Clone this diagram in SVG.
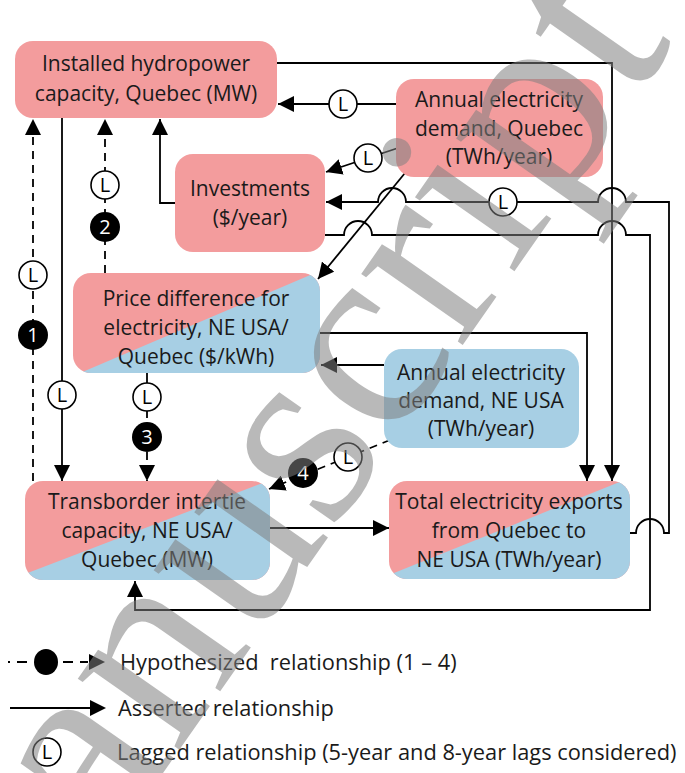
<svg xmlns="http://www.w3.org/2000/svg" width="685" height="773" viewBox="0 0 685 773">
<style>
.t{font-family:"Open Sans","Liberation Sans",sans-serif;font-size:21px;fill:#1a1a1a;text-anchor:middle}
.lg{font-family:"Open Sans","Liberation Sans",sans-serif;font-size:21.8px;fill:#1a1a1a}
.red{fill:#f39c9d}
.blue{fill:#a7cfe4}
.c{fill:none;stroke:#000;stroke-width:1.8}
.d{fill:none;stroke:#000;stroke-width:1.8;stroke-dasharray:8 6}
.lc{fill:#fff;stroke:#000;stroke-width:1.6}
.lt{font-family:"Open Sans","Liberation Sans",sans-serif;font-size:20px;fill:#000;text-anchor:middle}
.bc{fill:#000}
.bt{font-family:"Open Sans","Liberation Sans",sans-serif;font-size:20px;fill:#fff;text-anchor:middle}
.wm{font-family:"Liberation Serif",serif;font-size:270px;fill:#808080;fill-opacity:0.55}
</style>
<defs>
<marker id="ah" markerUnits="userSpaceOnUse" markerWidth="16" markerHeight="16" refX="16" refY="8" orient="auto">
<path d="M0,0 L16,8 L0,16 z" fill="#000"/>
</marker>
<clipPath id="cpPrice"><rect x="73" y="273" width="247" height="100" rx="18"/></clipPath>
<clipPath id="cpTrans"><rect x="25" y="481" width="245" height="99" rx="18"/></clipPath>
<clipPath id="cpExp"><rect x="389" y="481" width="241" height="98" rx="18"/></clipPath>
</defs>

<g id="connectors">
<path class="c" d="M277,63 H612 V481" marker-end="url(#ah)"/>
<path class="c" d="M396,104 H278" marker-end="url(#ah)"/>
<path class="c" d="M398,148 L326,172" marker-end="url(#ah)"/>
<path class="c" d="M405,173 L318,279" marker-end="url(#ah)"/>
<path class="c" d="M630,533 H636 A14,14 0 0 1 664,533 H669 V202 H626 A14,14 0 0 0 598,202 H406 A14,14 0 0 0 378,202 H326" marker-end="url(#ah)"/>
<path class="c" d="M325,235 H344 A14,14 0 0 1 372,235 H598 A14,14 0 0 1 626,235 H650 V610 H135 V581" marker-end="url(#ah)"/>
<path class="c" d="M320,333 H587 V481" marker-end="url(#ah)"/>
<path class="c" d="M384,365 H321" marker-end="url(#ah)"/>
<path class="d" d="M390,440 L269,489" marker-end="url(#ah)"/>
<path class="c" d="M270,528 H389" marker-end="url(#ah)"/>
<path class="c" d="M62,118 V481" marker-end="url(#ah)"/>
<path class="d" d="M33,481 V119" marker-end="url(#ah)"/>
<path class="d" d="M105,273 V119" marker-end="url(#ah)"/>
<path class="c" d="M175,203 H160 V119" marker-end="url(#ah)"/>
<path class="c" d="M147,373 V384"/>
<path class="d" d="M147,410 V481" marker-end="url(#ah)"/>
<g id="lags">
<circle class="lc" cx="343" cy="104" r="14"/><text class="lt" x="343" y="111">L</text>
<circle class="lc" cx="368" cy="158" r="14"/><text class="lt" x="368" y="165">L</text>
<circle class="lc" cx="503" cy="202" r="14"/><text class="lt" x="503" y="209">L</text>
<circle class="lc" cx="348" cy="457" r="14"/><text class="lt" x="348" y="464">L</text>
<circle class="lc" cx="62" cy="395" r="14"/><text class="lt" x="62" y="402">L</text>
<circle class="lc" cx="33" cy="275" r="14"/><text class="lt" x="33" y="282">L</text>
<circle class="lc" cx="105" cy="185" r="14"/><text class="lt" x="105" y="192">L</text>
<circle class="lc" cx="147" cy="397" r="14"/><text class="lt" x="147" y="404">L</text>
</g>
<g id="hyps">
<circle class="bc" cx="33" cy="335" r="15"/><text class="bt" x="33" y="342">1</text>
<circle class="bc" cx="105" cy="227" r="15"/><text class="bt" x="105" y="234">2</text>
<circle class="bc" cx="147" cy="437" r="15"/><text class="bt" x="147" y="444">3</text>
<circle class="bc" cx="303" cy="473" r="15"/><text class="bt" x="303" y="480">4</text>
</g>
</g>

<g id="hydro">
<rect class="red" x="15" y="41" width="262" height="77" rx="18"/>
<text class="t" x="146" y="71">Installed hydropower</text>
<text class="t" x="146" y="101">capacity, Quebec (MW)</text>
</g>
<g id="demandQ">
<rect class="red" x="396" y="79" width="207" height="98" rx="18"/>
<text class="t" x="499" y="107">Annual electricity</text>
<text class="t" x="499" y="136">demand, Quebec</text>
<text class="t" x="499" y="164">(TWh/year)</text>
</g>
<g id="invest">
<rect class="red" x="175" y="154" width="150" height="98" rx="18"/>
<text class="t" x="250" y="196">Investments</text>
<text class="t" x="250" y="225">($/year)</text>
</g>
<g id="price">
<g clip-path="url(#cpPrice)">
<rect class="red" x="73" y="273" width="247" height="100"/>
<polygon class="blue" points="73,376 322,270 322,375 73,375"/>
</g>
<text class="t" x="196" y="306">Price difference for</text>
<text class="t" x="196" y="335">electricity, NE USA/</text>
<text class="t" x="196" y="364">Quebec ($/kWh)</text>
</g>
<g id="demandUS">
<rect class="blue" x="384" y="349" width="195" height="99" rx="18"/>
<text class="t" x="481" y="380">Annual electricity</text>
<text class="t" x="481" y="408">demand, NE USA</text>
<text class="t" x="481" y="436">(TWh/year)</text>
</g>
<g id="trans">
<g clip-path="url(#cpTrans)">
<rect class="red" x="25" y="481" width="245" height="99"/>
<polygon class="blue" points="25,574 268,481 272,481 272,582 25,582"/>
</g>
<text class="t" x="147" y="509">Transborder intertie</text>
<text class="t" x="147" y="538">capacity, NE USA/</text>
<text class="t" x="147" y="567">Quebec (MW)</text>
</g>
<g id="exports">
<g clip-path="url(#cpExp)">
<rect class="red" x="389" y="481" width="241" height="98"/>
<polygon class="blue" points="389,575 622,481 632,481 632,581 389,581"/>
</g>
<text class="t" x="509" y="509">Total electricity exports</text>
<text class="t" x="509" y="538">from Quebec to</text>
<text class="t" x="509" y="567">NE USA (TWh/year)</text>
</g>

<g id="legend">
<path class="c" d="M8,662 H10 M17,662 H27 M63,662 H73 M80,662 H88"/>
<ellipse class="bc" cx="46" cy="662" rx="12" ry="13"/>
<path d="M89,654 L105,662 L89,670 z" fill="#000"/>
<text class="lg" x="120" y="670" xml:space="preserve">Hypothesized  relationship (1 – 4)</text>
<path class="c" d="M10,708 H92"/>
<path d="M90,700 L106,708 L90,716 z" fill="#000"/>
<text class="lg" x="118" y="716">Asserted relationship</text>
<circle class="lc" cx="47" cy="752" r="14"/><text class="lt" x="47" y="759">L</text>
<text class="lg" x="117" y="760">Lagged relationship (5-year and 8-year lags considered)</text>
</g>

<g id="watermark">
<text class="wm" transform="translate(107,853) rotate(-55)">anuscript</text>
</g>
</svg>
